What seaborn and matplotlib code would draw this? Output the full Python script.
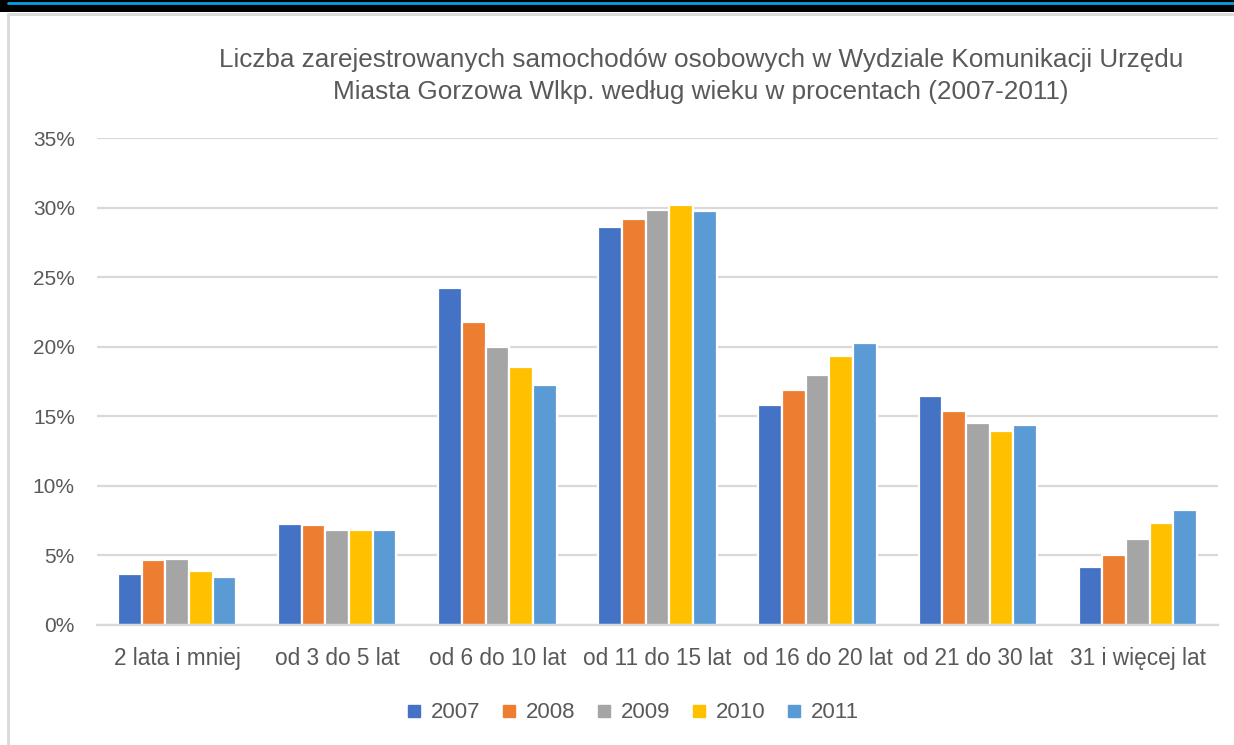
import pandas as pd
import numpy as np
import matplotlib.pyplot as plt
import seaborn as sns
from matplotlib.patches import Rectangle
from matplotlib.lines import Line2D

# Data (percent values)
categories = ["2 lata i mniej", "od 3 do 5 lat", "od 6 do 10 lat", "od 11 do 15 lat",
              "od 16 do 20 lat", "od 21 do 30 lat", "31 i więcej lat"]
years = ["2007", "2008", "2009", "2010", "2011"]
v2007 = [3.7, 7.25, 24.2, 28.6, 15.8, 16.45, 4.15]
v2008 = [4.65, 7.2, 21.75, 29.2, 16.9, 15.4, 5.05]
v2009 = [4.75, 6.85, 20.0, 29.8, 18.0, 14.55, 6.2]
v2010 = [3.9, 6.85, 18.55, 30.2, 19.3, 13.95, 7.3]
v2011 = [3.45, 6.85, 17.25, 29.75, 20.3, 14.35, 8.3]
colors = ["#4472C4", "#ED7D31", "#A5A5A5", "#FFC000", "#5B9BD5"]

series = dict(zip(years, [v2007, v2008, v2009, v2010, v2011]))
df = pd.DataFrame([
    {"Wiek": c, "Rok": y, "Udział": vals[i]}
    for y, vals in series.items() for i, c in enumerate(categories)
])

sns.set_style("white")
plt.rcParams['font.family'] = ['Liberation Sans', 'DejaVu Sans']
text_col = "#595959"
grid_col = "#D9D9D9"

fig = plt.figure(figsize=(12.34, 7.45), dpi=100)
ax = fig.add_axes([97 / 1234, 1 - 625 / 745, (1218 - 97) / 1234, (625 - 138) / 745])

sns.barplot(data=df, x="Wiek", y="Udział", hue="Rok", palette=colors, saturation=1,
            width=0.74, edgecolor="white", linewidth=1.6, ax=ax, legend=False)

ax.set_ylim(0, 35)
ax.set_yticks(np.arange(0, 36, 5))
ax.set_yticklabels([f"{t}%" for t in range(0, 36, 5)])
ax.yaxis.grid(True, color=grid_col, linewidth=1.6)
ax.set_axisbelow(True)
for side in ["top", "right", "left"]:
    ax.spines[side].set_visible(False)
ax.spines["bottom"].set_color(grid_col)
ax.spines["bottom"].set_linewidth(1.6)
ax.tick_params(axis="both", length=0, colors=text_col)
ax.tick_params(axis="x", pad=16, labelsize=16.3)
ax.tick_params(axis="y", pad=16, labelsize=15)
ax.set_xlabel("")
ax.set_ylabel("")

fig.text(701 / 1234, 1 - 76 / 745,
         "Liczba zarejestrowanych samochodów osobowych w Wydziale Komunikacji Urzędu\n"
         "Miasta Gorzowa Wlkp. według wieku w procentach (2007-2011)",
         ha="center", va="center", fontsize=18.8, color=text_col, linespacing=1.38)

handles = [Line2D([0], [0], marker="s", linestyle="", markersize=9,
                  markerfacecolor=c, markeredgecolor=c) for c in colors]
fig.legend(handles, years, loc="center", bbox_to_anchor=(633 / 1234, 1 - 713 / 745),
           ncol=5, frameon=False, fontsize=16, handlelength=0.6, handletextpad=0.45,
           columnspacing=1.0, labelcolor=text_col)

# surrounding frame of the original screenshot
fig.patches.append(Rectangle((0, 1 - 12 / 745), 1, 12 / 745, transform=fig.transFigure,
                             facecolor="black", edgecolor="none"))
fig.lines.append(Line2D([8 / 1234, 1], [1 - 3 / 745, 1 - 3 / 745], transform=fig.transFigure,
                        color="#00A2E8", linewidth=2))
fig.lines.append(Line2D([8 / 1234, 1], [1 - 14 / 745, 1 - 14 / 745], transform=fig.transFigure,
                        color="#D9D9D9", linewidth=2))
fig.lines.append(Line2D([8 / 1234, 8 / 1234], [0, 1 - 14 / 745], transform=fig.transFigure,
                        color="#D9D9D9", linewidth=2))

fig.savefig("out.png", dpi=100)
